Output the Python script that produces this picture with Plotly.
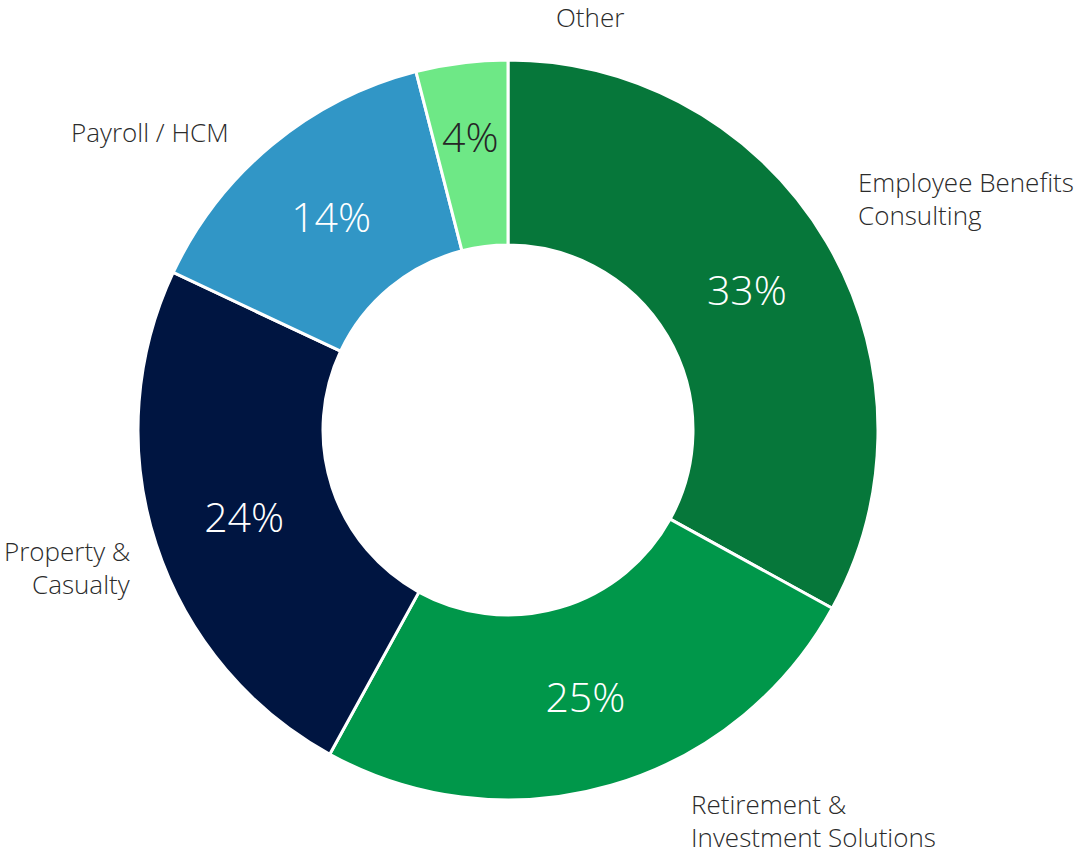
import math

import plotly.graph_objects as go

# Revenue mix by business line (percent of total)
segments = ["Employee Benefits Consulting", "Retirement & Investment Solutions",
            "Property & Casualty", "Payroll / HCM", "Other"]
shares = [33, 25, 24, 14, 4]
colors = ["#06773A", "#00974A", "#001541", "#3196C6", "#6EE886"]

# Outside label text, split the way the reference wraps it
label_lines = [
    ["Employee Benefits", "Consulting"],
    ["Retirement &", "Investment Solutions"],
    ["Property &", "Casualty"],
    ["Payroll / HCM"],
    ["Other"],
]

W, H = 1076, 855
CX, CY, R = 508, 430, 370  # pixel centre / radius of the donut
FONT = "Open Sans"

# where each label block sits: (x px, first line centre y px, anchor)
label_pos = [
    (856, 182, "left"),
    (689, 804, "left"),
    (132, 551, "right"),
    (231, 132, "right"),
    (590, 17, "center"),
]
LINE_GAP = 33

# the thin last slice gets its percent drawn by hand at its mid-angle,
# plotly pushes it too far out otherwise
n_inside = len(shares) - 1
fig = go.Figure(
    go.Pie(
        labels=segments,
        values=shares,
        sort=False,
        direction="clockwise",
        rotation=0,
        hole=0.5,
        marker=dict(colors=colors, line=dict(color="#FFFFFF", width=3)),
        texttemplate=["%{value}%"] * n_inside + [""],
        textposition="inside",
        insidetextorientation="horizontal",
        insidetextfont=dict(family=FONT, size=41, color="#FFFFFF", weight=300),
        hoverinfo="label+percent",
        domain=dict(x=[(CX - R) / W, (CX + R) / W],
                    y=[(H - CY - R) / H, (H - CY + R) / H]),
        showlegend=False,
    )
)

mid = (sum(shares[:-1]) + shares[-1] / 2) / sum(shares) * 2 * math.pi
rr = 0.8 * R
fig.add_annotation(
    text=f"{shares[-1]}%",
    x=(CX + rr * math.sin(mid)) / W, y=1 - (CY - rr * math.cos(mid)) / H,
    xref="paper", yref="paper", xanchor="center", yanchor="middle",
    showarrow=False,
    font=dict(family=FONT, size=41, color="#262626", weight=300),
)

for lines, (x, y0, anchor) in zip(label_lines, label_pos):
    for j, line in enumerate(lines):
        fig.add_annotation(
            text=line, x=x / W, y=1 - (y0 + j * LINE_GAP) / H,
            xref="paper", yref="paper", xanchor=anchor, yanchor="middle",
            showarrow=False,
            font=dict(family=FONT, size=26, color="#2B2B2B", weight=300),
        )

fig.update_layout(
    width=W, height=H,
    margin=dict(l=0, r=0, t=0, b=0),
    paper_bgcolor="#FFFFFF",
    plot_bgcolor="#FFFFFF",
)

# drop the browser's default 8px body margin so the figure fills the window
fig.write_html("out.html", config={"displayModeBar": False},
               post_script="document.body.style.margin='0';")
